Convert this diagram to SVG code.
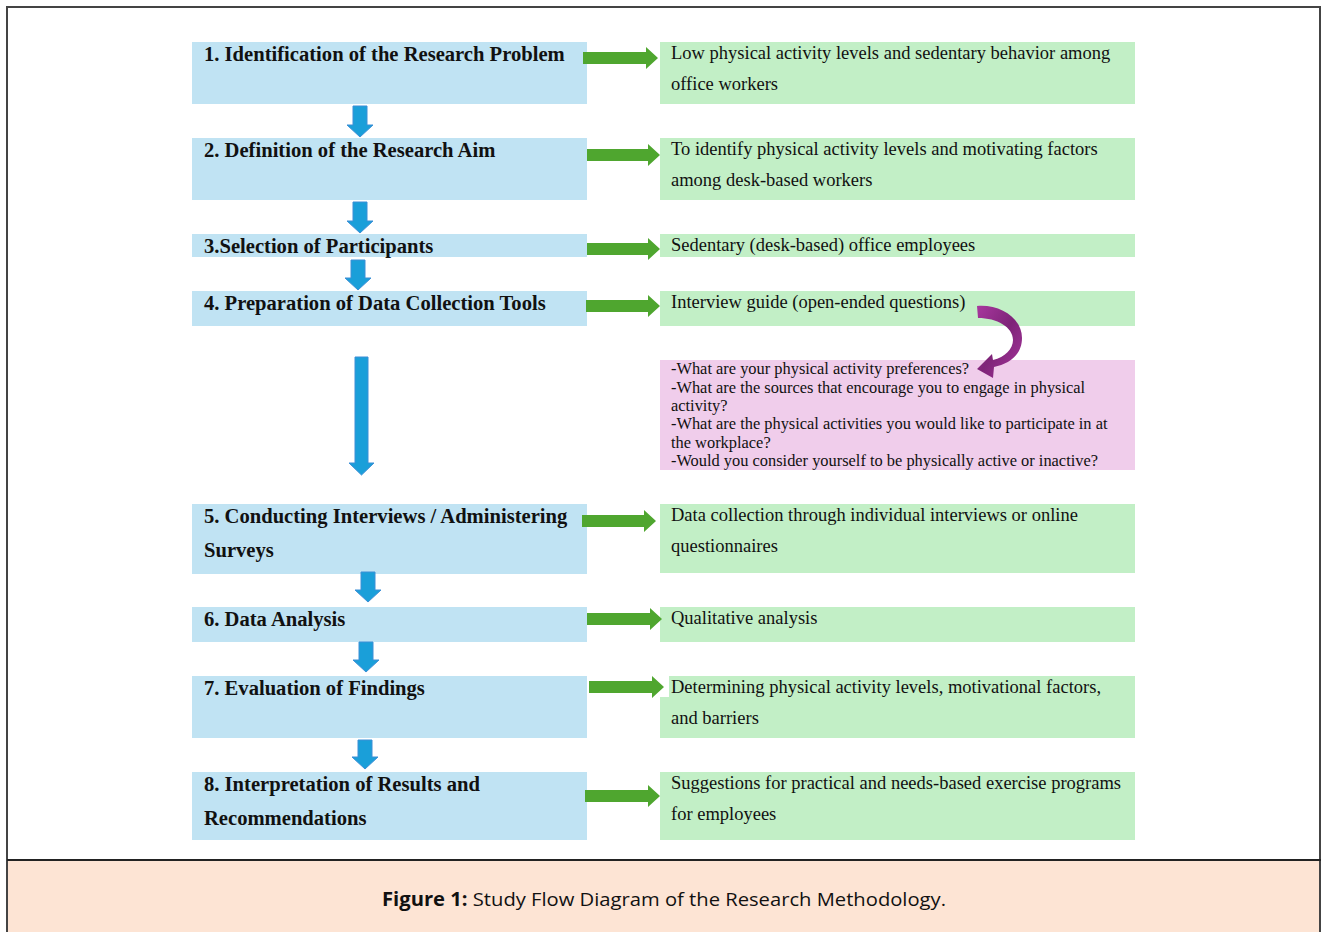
<svg xmlns="http://www.w3.org/2000/svg" width="1322" height="932" viewBox="0 0 1322 932">
<style>
.lb{fill:#c0e3f3}
.rg{fill:#c2efc6}
.pk{fill:#f0cdeb}
.lt{font-family:"Liberation Serif","Times New Roman",serif;font-weight:bold;font-size:20.6px;fill:#111}
.rt{font-family:"Liberation Serif","Times New Roman",serif;font-size:18.5px;fill:#111}
.pt{font-family:"Liberation Serif","Times New Roman",serif;font-size:16.4px;fill:#111}
.ga{fill:#4fa62f}
.ba{fill:#1a9fd9;stroke:#3d8fd6;stroke-width:1}
.cap{font-family:"Open Sans","Noto Sans",sans-serif;font-size:19px;fill:#111}
</style>
<defs>
<linearGradient id="pg" x1="0" y1="0" x2="1" y2="1">
<stop offset="0" stop-color="#a8379e"/>
<stop offset="0.5" stop-color="#7e2478"/>
<stop offset="1" stop-color="#a8379e"/>
</linearGradient>
</defs>
<rect x="0" y="0" width="1322" height="932" fill="#fff"/>
<rect x="7" y="860" width="1314" height="80" fill="#fde4d4"/>
<rect x="7" y="7" width="1313" height="940" fill="none" stroke="#444" stroke-width="2"/>
<line x1="7" y1="860" x2="1321" y2="860" stroke="#222" stroke-width="2"/>
<text class="cap" x="664" y="906" text-anchor="middle" textLength="564" lengthAdjust="spacingAndGlyphs"><tspan font-weight="bold">Figure 1:</tspan> Study Flow Diagram of the Research Methodology.</text>

<g id="step1"><rect class="lb" x="192" y="42" width="395" height="62"/><text class="lt" x="204" y="61">1. Identification of the Research Problem</text></g>
<g id="step2"><rect class="lb" x="192" y="138" width="395" height="62"/><text class="lt" x="204" y="157">2. Definition of the Research Aim</text></g>
<g id="step3"><rect class="lb" x="192" y="234" width="395" height="23"/><text class="lt" x="204" y="253">3.Selection of Participants</text></g>
<g id="step4"><rect class="lb" x="192" y="291" width="395" height="35"/><text class="lt" x="204" y="310">4. Preparation of Data Collection Tools</text></g>
<g id="step5"><rect class="lb" x="192" y="504" width="395" height="70"/><text class="lt" x="204" y="523">5. Conducting Interviews / Administering</text><text class="lt" x="204" y="557">Surveys</text></g>
<g id="step6"><rect class="lb" x="192" y="607" width="395" height="35"/><text class="lt" x="204" y="626">6. Data Analysis</text></g>
<g id="step7"><rect class="lb" x="192" y="676" width="395" height="62"/><text class="lt" x="204" y="695">7. Evaluation of Findings</text></g>
<g id="step8"><rect class="lb" x="192" y="772" width="395" height="68"/><text class="lt" x="204" y="791">8. Interpretation of Results and</text><text class="lt" x="204" y="825">Recommendations</text></g>

<g id="out1"><rect class="rg" x="660" y="42" width="475" height="62"/><text class="rt" x="671" y="59">Low physical activity levels and sedentary behavior among</text><text class="rt" x="671" y="90">office workers</text></g>
<g id="out2"><rect class="rg" x="660" y="138" width="475" height="62"/><text class="rt" x="671" y="155">To identify physical activity levels and motivating factors</text><text class="rt" x="671" y="186">among desk-based workers</text></g>
<g id="out3"><rect class="rg" x="660" y="234" width="475" height="23"/><text class="rt" x="671" y="251">Sedentary (desk-based) office employees</text></g>
<g id="out4"><rect class="rg" x="660" y="291" width="475" height="35"/><text class="rt" x="671" y="308">Interview guide (open-ended questions)</text></g>
<g id="questions"><rect class="pk" x="660" y="360" width="475" height="110"/>
<text class="pt" x="671" y="374">-What are your physical activity preferences?</text>
<text class="pt" x="671" y="393">-What are the sources that encourage you to engage in physical</text>
<text class="pt" x="671" y="411">activity?</text>
<text class="pt" x="671" y="429">-What are the physical activities you would like to participate in at</text>
<text class="pt" x="671" y="448">the workplace?</text>
<text class="pt" x="671" y="466">-Would you consider yourself to be physically active or inactive?</text></g>
<g id="out5"><rect class="rg" x="660" y="504" width="475" height="69"/><text class="rt" x="671" y="521">Data collection through individual interviews or online</text><text class="rt" x="671" y="552">questionnaires</text></g>
<g id="out6"><rect class="rg" x="660" y="607" width="475" height="35"/><text class="rt" x="671" y="624">Qualitative analysis</text></g>
<g id="out7"><rect class="rg" x="660" y="676" width="475" height="62"/><rect x="657" y="676" width="12" height="21" fill="#fff"/><text class="rt" x="671" y="693">Determining physical activity levels, motivational factors,</text><text class="rt" x="671" y="724">and barriers</text></g>
<g id="out8"><rect class="rg" x="660" y="772" width="475" height="68"/><text class="rt" x="671" y="789">Suggestions for practical and needs-based exercise programs</text><text class="rt" x="671" y="820">for employees</text></g>

<g id="connectors">
<path class="ga" d="M583,52 H646 V47 L658,58 L646,69 V64 H583 Z"/>
<path class="ga" d="M587,149 H648 V144 L660,155 L648,166 V161 H587 Z"/>
<path class="ga" d="M587,243 H648 V238 L660,249 L648,260 V255 H587 Z"/>
<path class="ga" d="M586,300 H648 V295 L660,306 L648,317 V312 H586 Z"/>
<path class="ga" d="M582,515 H644 V510 L656,521 L644,532 V527 H582 Z"/>
<path class="ga" d="M587,613 H650 V608 L662,619 L650,630 V625 H587 Z"/>
<path class="ga" d="M589,681 H652 V676 L664,687 L652,698 V693 H589 Z"/>
<path class="ga" d="M585,790 H648 V785 L660,796 L648,807 V802 H585 Z"/>
<path class="ba" d="M353,106 H367 V125 H373 L360,137 L347,125 H353 Z"/>
<path class="ba" d="M353,202 H367 V221 H373 L360,233 L347,221 H353 Z"/>
<path class="ba" d="M351,260 H365 V278 H371 L358,290 L345,278 H351 Z"/>
<path class="ba" d="M355,357 H368 V463 H374 L361.5,475 L349,463 H355 Z"/>
<path class="ba" d="M361,572 H375 V590 H381 L368,602 L355,590 H361 Z"/>
<path class="ba" d="M359,642 H373 V660 H379 L366,672 L353,660 H359 Z"/>
<path class="ba" d="M358,740 H372 V757 H378 L365,769 L352,757 H358 Z"/>
<path fill="url(#pg)" d="M977,306 C1000,304 1022,318 1022,338 C1022,355 1009,364 994,367 L993,378 L977,369 L992,354 L993,360 C1005,357 1013,349 1013,340 C1013,327 997,318 978,318 Z"/>
</g>
</svg>
